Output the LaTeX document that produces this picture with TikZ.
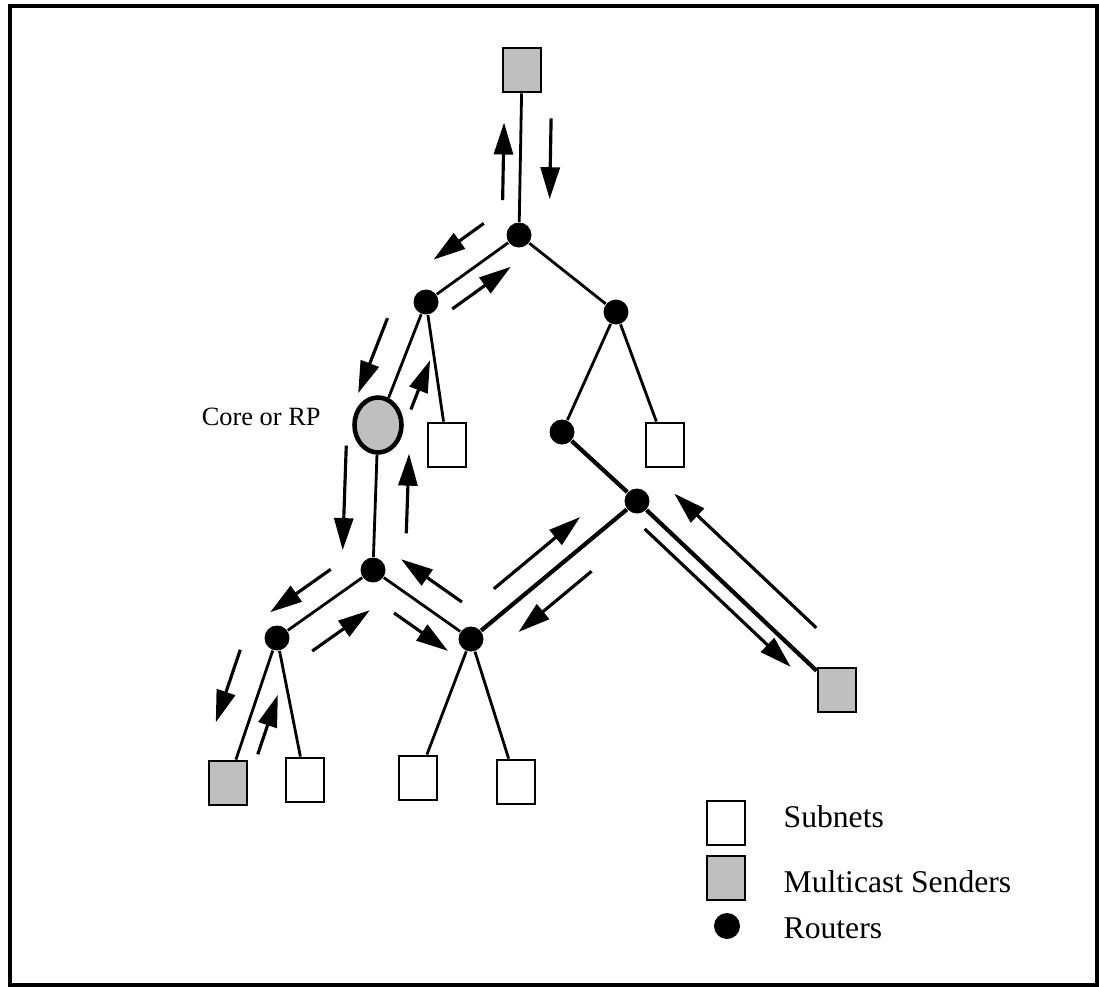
\documentclass[tikz,border=0pt]{standalone}
\usepackage{fontspec}
\setmainfont{Liberation Serif}
\usetikzlibrary{arrows.meta,positioning,shapes.geometric,calc}

% flow arrow drawn parallel to the link from #1 to #2
\newcommand{\flowarr}[5]{\draw[flow] ($(#1)!#3!(#2)!#5!90:(#2)$) -- ($(#1)!#4!(#2)!#5!90:(#2)$);}

\begin{document}
\begin{tikzpicture}[
  every node/.style={font=\fontsize{9}{11}\selectfont},
  subnet/.style={draw,line width=0.8pt,fill=white,minimum width=0.38cm,minimum height=0.44cm,inner sep=0pt},
  sender/.style={subnet,fill=black!25},
  router/.style={circle,fill=black,minimum size=0.25cm,inner sep=0pt},
  corenode/.style={ellipse,draw,line width=1.3pt,fill=black!25,minimum width=0.47cm,minimum height=0.55cm,inner sep=0pt},
  link/.style={line width=0.8pt},
  trunk/.style={line width=1.2pt},
  flow/.style={-{Triangle[length=3.2mm,width=1.9mm]},line width=0.9pt},
]
  \useasboundingbox (0,0) rectangle (10.99,-9.87);
  \draw[line width=1pt] (0.10,-0.06) rectangle (10.97,-9.85);

  % Routers and subnets
  \node[sender] (s0) at (5.22,-0.70) {};
  \node[router] (r0) at (5.19,-2.35) {};
  \node[router] (r1) at (4.26,-3.02) {};
  \node[router] (r2) at (6.16,-3.12) {};
  \node[corenode] (core) at (3.78,-4.25) {};
  \node[subnet] (sn1) at (4.47,-4.45) {};
  \node[router] (r3) at (5.62,-4.32) {};
  \node[subnet] (sn2) at (6.65,-4.45) {};
  \node[router] (r4) at (6.37,-5.01) {};
  \node[router] (r5) at (3.73,-5.70) {};
  \node[router] (r6) at (2.77,-6.38) {};
  \node[router] (r7) at (4.71,-6.39) {};
  \node[sender] (s1) at (2.28,-7.83) {};
  \node[subnet] (sn3) at (3.05,-7.80) {};
  \node[subnet] (sn4) at (4.18,-7.78) {};
  \node[subnet] (sn5) at (5.16,-7.82) {};
  \node[sender] (s2) at (8.37,-6.90) {};

  \node[font=\fontsize{7.5}{9}\selectfont,inner sep=0pt,left=0.31cm of core,yshift=0.08cm] (corelbl) {Core or RP};

  % Links
  \draw[link] (s0) -- (r0);
  \draw[link] (r0) -- (r1);
  \draw[link] (r0) -- (r2);
  \draw[link] (r1) -- (core);
  \draw[link] (r1) -- (sn1);
  \draw[link] (r2) -- (r3);
  \draw[link] (r2) -- (sn2);
  \draw[trunk] (r3) -- (r4);
  \draw[trunk] (r4) -- (r7);
  \draw[trunk] (r4) -- (s2);
  \draw[link] (core) -- (r5);
  \draw[link] (r5) -- (r6);
  \draw[link] (r5) -- (r7);
  \draw[link] (r6) -- (s1);
  \draw[link] (r6) -- (sn3);
  \draw[link] (r7) -- (sn4);
  \draw[link] (r7) -- (sn5);

  % Flows
  \flowarr{s0}{r0}{0.79}{0.32}{-0.17cm}
  \flowarr{s0}{r0}{0.29}{0.78}{0.30cm}
  \flowarr{r0}{r1}{0.19}{0.73}{-0.30cm}
  \flowarr{r0}{r1}{0.85}{0.22}{0.21cm}
  \flowarr{r1}{core}{0.22}{0.83}{-0.30cm}
  \flowarr{r1}{core}{0.80}{0.40}{0.25cm}
  \flowarr{core}{r5}{0.15}{0.87}{-0.31cm}
  \flowarr{core}{r5}{0.74}{0.19}{0.32cm}
  \flowarr{r5}{r6}{0.29}{0.92}{-0.25cm}
  \flowarr{r5}{r6}{0.82}{0.22}{0.31cm}
  \flowarr{r5}{r7}{0.76}{0.14}{0.25cm}
  \flowarr{r5}{r7}{0.35}{0.90}{-0.23cm}
  \flowarr{r7}{r4}{0.23}{0.75}{0.24cm}
  \flowarr{r7}{r4}{0.63}{0.19}{-0.25cm}
  \flowarr{r4}{s2}{0.79}{0.08}{0.31cm}
  \flowarr{r4}{s2}{0.09}{0.82}{-0.15cm}
  \flowarr{r6}{s1}{0.15}{0.65}{-0.31cm}
  \flowarr{r6}{s1}{0.76}{0.35}{0.19cm}

  % Legend
  \node[subnet] (lgsub) at (7.26,-8.23) {};
  \node[sender] (lgsnd) at (7.26,-8.78) {};
  \node[router,minimum size=0.26cm] (lgrtr) at (7.27,-9.26) {};
  \node[anchor=base west,inner sep=0pt] (txsub) at (7.83,-8.27) {Subnets};
  \node[anchor=base west,inner sep=0pt] (txsnd) at (7.83,-8.92) {Multicast Senders};
  \node[anchor=base west,inner sep=0pt] (txrtr) at (7.83,-9.38) {Routers};
\end{tikzpicture}
\end{document}
